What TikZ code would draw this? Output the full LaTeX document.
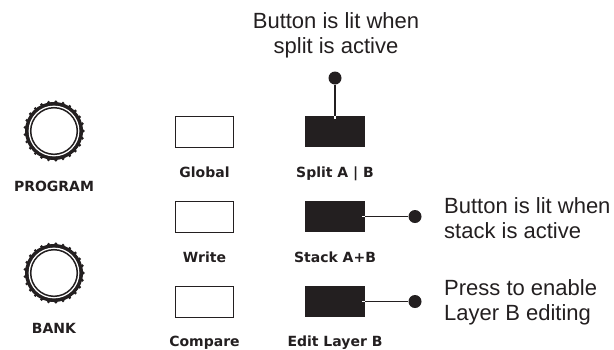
\documentclass[tikz,border=0pt]{standalone}
\usepackage{fontspec}
\setmainfont{Liberation Sans}
\newfontfamily\capfont{DejaVu Sans}
\definecolor{ink}{HTML}{231F20}

\begin{document}
\begin{tikzpicture}[x=1pt, y=-1pt,
  plainbtn/.style={draw=ink, line width=1.3pt, minimum width=58pt, minimum height=31pt, inner sep=0pt},
  litbtn/.style={fill=ink, minimum width=60pt, minimum height=31pt, inner sep=0pt},
  caption/.style={anchor=base, inner sep=0pt, text=ink, font=\capfont\bfseries\fontsize{14}{16}\selectfont},
  callout/.style={inner sep=0pt, text=ink, font=\fontsize{22}{25}\selectfont},
  dot/.style={circle, fill=ink, minimum size=13pt, inner sep=0pt},
  leader/.style={draw=ink, line width=1.4pt}]
  \useasboundingbox (0, 0) rectangle (614, 349);

  % knobs
  \coordinate (prog) at (54, 131);
  \coordinate (bank) at (54, 273);
  \foreach \k in {prog, bank} {
    \fill[ink] (\k) circle (29);
    \foreach \a in {0, 14.4, ..., 359}
      \fill[ink] (\k) ++(\a:29.2) circle (1.6);
    \fill[white] (\k) circle (25.4);
    \draw[ink, line width=1.5pt] (\k) circle (23.3);
  }
  \node[caption] (proglabel) at (54, 191) {PROGRAM};
  \node[caption] (banklabel) at (54, 333) {BANK};

  % buttons
  \node[plainbtn] (global) at (204.5, 132) {};
  \node[plainbtn] (write) at (204.5, 217) {};
  \node[plainbtn] (compare) at (204.5, 302) {};
  \node[litbtn] (split) at (335, 131.5) {};
  \node[litbtn] (stack) at (335, 216.5) {};
  \node[litbtn] (edit) at (335, 301.5) {};

  \node[caption] at (204.5, 177) {Global};
  \node[caption] at (204.5, 262) {Write};
  \node[caption] at (204.5, 346) {Compare};
  \node[caption] at (335, 177) {Split A | B};
  \node[caption] at (335, 262) {Stack A+B};
  \node[caption] at (335, 346) {Edit Layer B};

  % callouts
  \node[dot] (splitdot) at (335, 78) {};
  \node[dot] (stackdot) at (415, 216.5) {};
  \node[dot] (editdot) at (415, 301.5) {};
  \draw[leader] (splitdot) -- (split.north);
  \draw[white, line width=1.4pt] (split.north) -- ++(0, 3);
  \draw[leader] (stackdot) -- (stack.east);
  \draw[white, line width=1.4pt] (stack.east) -- ++(-3, 0);
  \draw[leader] (editdot) -- (edit.east);
  \draw[white, line width=1.4pt] (edit.east) -- ++(-3, 0);

  \node[callout, anchor=north, align=center] (splitnote) at (336, 12.2) {Button is lit when\\split is active};
  \node[callout, anchor=north west, align=left] (stacknote) at (444, 197.2) {Button is lit when\\stack is active};
  \node[callout, anchor=north west, align=left] (editnote) at (444, 279.2) {Press to enable\\Layer B editing};
\end{tikzpicture}
\end{document}
